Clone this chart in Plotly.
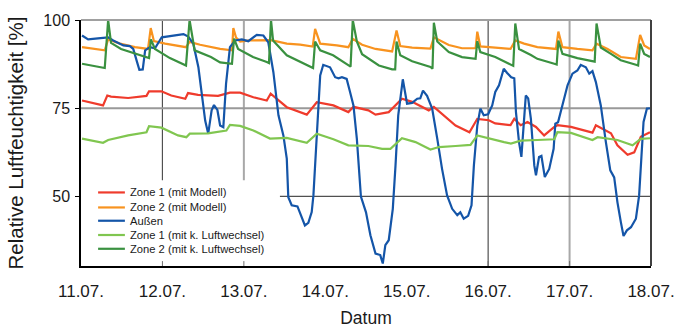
import plotly.graph_objects as go

# ---- Data (x = hours since 11.07. 00:00, y = relative humidity %) ----
z1_mod_h = [0.3, 6.5, 7.75, 8.85, 13.9, 19.3, 20.05, 23.7, 26.6, 30.75, 31.55, 34.5, 40.4, 43.9, 46.9,
            50.8, 54.75, 55.9, 60.65, 66.55, 69.5, 74.4, 78.8, 80.3, 84.7, 86.8, 90.7, 94.6, 97.6,
            102.5, 104.0, 110.4, 114.5, 116.8, 120.2, 122.1, 126.6, 127.7, 129.6, 131.6, 134.1,
            136.5, 139.5, 140.4, 144.4, 150.75, 151.75, 156.2, 158.1, 161.1, 163.05, 165.0, 167.7]
z1_mod_v = [77.2, 75.8, 78.6, 78.3, 77.9, 78.5, 79.8, 79.8, 78.6, 77.7, 79.3, 78.8, 78.5, 79.4, 79.4,
            78.1, 77.2, 79.1, 75.3, 73.2, 76.7, 75.8, 73.9, 75.4, 74.4, 73.2, 73.9, 77.7, 76.8,
            74.4, 75.4, 70.1, 68.2, 72.0, 71.6, 70.7, 70.2, 72.0, 70.2, 71.1, 69.7,
            67.3, 69.7, 70.2, 69.7, 68.1, 70.2, 67.9, 64.5, 61.8, 62.5, 66.9, 68.2]

z2_mod_h = [0.3, 7.0, 8.0, 11.5, 15.9, 19.75, 20.55, 21.5, 24.8, 30.95, 32.0, 35.1, 41.0, 44.5, 44.9,
            45.7, 46.9, 49.8, 56.0, 60.65, 64.6, 68.3, 69.0, 70.5, 75.4, 78.8, 80.1, 82.85, 86.8,
            91.7, 93.0, 94.1, 97.6, 103.0, 104.0, 105.5, 108.4, 112.3, 116.3, 116.8, 117.7, 122.1,
            126.6, 128.0, 130.6, 134.5, 140.0, 140.7, 141.9, 146.3, 150.75, 151.95, 155.2, 159.1,
            163.55, 164.8, 166.0, 167.7]
z2_mod_v = [92.3, 91.4, 94.5, 93.3, 92.3, 91.8, 97.7, 94.0, 93.3, 92.3, 93.8, 93.0, 91.8, 91.4, 97.7,
            95.0, 93.9, 94.2, 94.3, 93.3, 93.0, 92.5, 97.5, 93.3, 92.8, 92.3, 94.7, 93.0, 91.8,
            91.1, 97.0, 92.6, 92.2, 91.9, 95.1, 94.3, 92.9, 92.0, 92.0, 96.7, 92.5, 92.2,
            91.8, 94.2, 93.3, 92.3, 91.8, 96.7, 92.3, 91.8, 91.4, 93.3, 91.8, 89.5,
            89.0, 95.8, 92.8, 91.8]

aussen_h = [0.3, 2.1, 5.0, 8.0, 9.5, 12.5, 14.4, 15.4, 16.4, 17.2, 18.2, 18.9, 20.3, 21.8, 23.8,
            28.2, 30.2, 31.6, 33.1, 34.6, 35.6, 36.6, 37.5, 38.5, 39.2, 40.2, 41.0, 41.95, 42.75,
            43.9, 45.4, 47.4, 49.3, 51.8, 53.75, 55.2, 56.7, 58.2, 59.65, 60.65, 61.1, 62.1, 63.8,
            65.1, 66.0, 67.0, 68.0, 68.5, 69.5, 70.5, 71.4, 73.4, 74.9, 75.9, 76.9, 78.3, 79.3,
            80.3, 81.3, 82.5, 84.0, 85.3, 86.8, 88.2, 88.95, 89.7, 90.7, 91.9, 92.7, 93.5, 94.85,
            96.1, 97.6, 99.1, 100.0, 100.8, 102.0, 103.5, 105.0, 106.4, 107.9, 109.4, 110.9, 111.8,
            112.8, 114.1, 115.1, 115.8, 116.8, 117.7, 118.7, 120.0, 121.2, 122.1, 123.2, 124.6,
            125.6, 126.8, 127.7, 128.2, 129.1, 129.8, 130.6, 131.1, 131.8, 132.6, 133.6, 134.1,
            135.0, 135.7, 136.7, 138.0, 139.3, 139.8, 140.6, 141.9, 143.4, 144.85, 146.3, 147.3,
            148.8, 149.8, 150.75, 151.75, 153.2, 154.7, 156.0, 157.15, 158.1, 159.1, 159.9, 160.9,
            162.1, 163.55, 164.5, 165.2, 165.8, 166.8, 167.7]
aussen_v = [95.6, 94.5, 94.8, 95.1, 94.2, 92.8, 92.6, 91.8, 88.5, 85.9, 86.0, 91.4, 92.3, 92.0, 95.1,
            95.6, 96.0, 95.3, 93.3, 86.6, 79.1, 71.5, 67.8, 74.4, 75.9, 74.5, 70.1, 69.6, 81.9,
            92.3, 94.2, 94.5, 94.0, 95.8, 95.6, 93.7, 85.2, 73.0, 67.3, 60.7, 49.8, 47.5, 47.2,
            43.7, 41.8, 42.5, 45.6, 50.3, 68.2, 84.3, 87.3, 86.6, 83.8, 83.5, 83.8, 83.3, 79.6,
            75.8, 66.4, 50.0, 45.5, 39.0, 33.8, 33.4, 31.0, 36.2, 37.6, 46.5, 58.8, 73.0, 83.2,
            76.3, 76.5, 77.7, 77.8, 80.0, 78.5, 74.9, 66.4, 57.9, 50.3, 46.5, 44.7, 45.5,
            43.7, 44.5, 47.5, 58.8, 70.1, 74.9, 73.0, 73.3, 75.8, 79.6, 81.5, 86.2,
            85.0, 83.8, 83.5, 73.9, 65.4, 61.2, 72.0, 78.6, 77.8, 72.0, 58.8, 56.0,
            61.2, 61.5, 55.5, 57.8, 63.5, 70.6, 71.0, 75.8, 81.5, 84.8, 85.7, 87.3,
            86.6, 84.8, 85.5, 82.4, 75.8, 65.4, 57.4, 55.4, 48.4, 42.8, 38.8, 40.4,
            41.3, 43.7, 50.3, 61.6, 71.1, 74.9, 75.0]

z1_lw_h = [0.3, 6.5, 8.0, 13.9, 19.3, 20.05, 23.7, 28.6, 31.05, 32.05, 37.45, 42.85, 43.9, 46.9, 50.8,
           55.7, 60.65, 66.55, 69.5, 74.4, 78.8, 84.7, 88.75, 91.2, 94.6, 98.6, 103.0, 105.5, 110.4,
           114.8, 116.8, 120.2, 124.7, 126.7, 129.6, 134.5, 139.5, 140.4, 144.4, 150.75, 152.25,
           158.1, 162.55, 165.0, 167.7]
z1_lw_v = [66.4, 65.2, 66.0, 67.3, 68.2, 69.9, 69.5, 67.3, 66.8, 67.8, 67.9, 68.7, 70.3, 70.0, 68.7,
           66.4, 66.6, 65.2, 67.8, 66.2, 64.5, 64.3, 63.5, 63.5, 66.5, 65.4, 63.3, 64.0, 64.3,
           64.6, 67.3, 66.4, 65.4, 65.0, 65.8, 66.0, 66.2, 68.2, 68.0, 66.0, 66.8,
           66.0, 64.5, 66.3, 66.5]

z2_lw_h = [0.3, 7.0, 8.0, 8.85, 11.8, 15.9, 20.05, 20.6, 21.8, 26.2, 30.95, 32.0, 33.5, 38.3, 41.0,
           44.5, 45.1, 46.3, 50.7, 54.75, 55.4, 56.0, 56.6, 60.65, 64.6, 67.7, 68.4, 69.0, 70.5,
           74.3, 78.8, 79.45, 80.1, 81.3, 82.85, 87.8, 91.7, 92.6, 93.0, 94.1, 97.6, 103.0, 103.6,
           104.0, 105.0, 108.4, 112.3, 116.3, 116.8, 117.7, 122.1, 125.0, 127.4, 128.0, 129.1,
           132.6, 134.5, 139.5, 140.2, 140.7, 141.9, 146.3, 150.75, 151.4, 151.95, 153.2, 156.2,
           159.1, 163.55, 164.2, 164.8, 166.0, 167.7]
z2_lw_v = [87.6, 86.4, 100.0, 93.5, 91.8, 90.4, 89.2, 94.5, 91.8, 89.2, 87.1, 100.0, 91.4, 89.5, 88.0,
           87.6, 94.7, 91.8, 89.5, 88.1, 87.8, 100.0, 94.2, 90.0, 88.1, 86.6, 86.4, 93.9, 91.4,
           90.0, 87.1, 86.8, 100.0, 93.9, 90.3, 87.1, 86.0, 86.0, 93.9, 90.0, 88.3, 86.7, 86.2,
           99.2, 93.9, 90.9, 89.5, 89.0, 94.0, 90.9, 89.5, 88.2, 87.0, 99.0, 91.8,
           90.1, 89.0, 87.6, 87.4, 94.2, 90.4, 89.2, 88.3, 88.2, 99.0, 92.2, 90.4,
           88.6, 87.3, 87.1, 93.3, 90.4, 89.5]

day_ticks = [0, 24, 48, 72, 96, 120, 144, 168]
day_labels = ["11.07.", "12.07.", "13.07.", "14.07.", "15.07.", "16.07.", "17.07.", "18.07."]
y_ticks = [50, 75, 100]

names = ["Zone 1 (mit Modell)", "Zone 2 (mit Modell)", "Außen",
         "Zone 1 (mit k. Luftwechsel)", "Zone 2 (mit k. Luftwechsel)"]
colors = ["#ef3b2c", "#f8931f", "#1455a8", "#80c650", "#3a9140"]
xs = [z1_mod_h, z2_mod_h, aussen_h, z1_lw_h, z2_lw_h]
ys = [z1_mod_v, z2_mod_v, aussen_v, z1_lw_v, z2_lw_v]

FONT = "Liberation Sans, Arial, sans-serif"

fig = go.Figure()
for n, c, x, y in zip(names, colors, xs, ys):
    fig.add_trace(go.Scatter(x=x, y=y, mode="lines", name=n, showlegend=False,
                             line=dict(color=c, width=2.2)))

shapes = []
# grid lines (only at some dates, as in the original)
for xv, col, w in [(24, "#505050", 1.2), (48, "#a8a8a8", 2), (120, "#505050", 1.2), (144, "#a8a8a8", 2)]:
    shapes.append(dict(type="line", xref="x", yref="paper", x0=xv, x1=xv, y0=0, y1=1,
                       line=dict(color=col, width=w), layer="below"))
shapes.append(dict(type="line", xref="paper", yref="y", x0=0, x1=1, y0=75, y1=75,
                   line=dict(color="#999999", width=2), layer="below"))
shapes.append(dict(type="line", xref="paper", yref="y", x0=0, x1=1, y0=50, y1=50,
                   line=dict(color="#505050", width=1.2), layer="below"))
# legend box (white, covers grid)
lx0, lx1, ly0, ly1 = 0.0, 0.349, 0.0, 0.349
shapes.append(dict(type="rect", xref="paper", yref="paper", x0=lx0, x1=lx1, y0=ly0, y1=ly1,
                   fillcolor="white", line=dict(width=0), layer="below"))
# small inside ticks at bottom
for xv in [24, 48, 120, 144]:
    shapes.append(dict(type="line", xref="x", yref="paper", x0=xv, x1=xv, y0=0, y1=0.02,
                       line=dict(color="#707070", width=1)))
# frame: top gray, right dark
shapes.append(dict(type="line", xref="paper", yref="paper", x0=0, x1=1, y0=1, y1=1,
                   line=dict(color="#a0a0a0", width=2)))
shapes.append(dict(type="line", xref="paper", yref="paper", x0=1, x1=1, y0=0, y1=1,
                   line=dict(color="#404040", width=2)))

# manual legend
annotations = []
leg_y = [0.299, 0.238, 0.184, 0.126, 0.070]
for n, c, yy in zip(names, colors, leg_y):
    shapes.append(dict(type="line", xref="paper", yref="paper", x0=0.030, x1=0.077, y0=yy, y1=yy,
                       line=dict(color=c, width=2.2)))
    annotations.append(dict(xref="paper", yref="paper", x=0.082, y=yy, text=n, showarrow=False,
                            xanchor="left", yanchor="middle", font=dict(family=FONT, size=11.2, color="#1a1a1a")))

fig.update_layout(
    width=678, height=328,
    margin=dict(l=81, r=27, t=20, b=62),
    paper_bgcolor="white", plot_bgcolor="white",
    font=dict(family=FONT, color="#1a1a1a"),
    shapes=shapes, annotations=annotations,
    xaxis=dict(range=[0, 168], tickmode="array", tickvals=day_ticks, ticktext=day_labels,
               automargin=False,
               showgrid=False, zeroline=False, showline=True, linecolor="black", linewidth=1.5,
               ticks="", tickfont=dict(size=17), ticklabelstandoff=9,
               title=dict(text="Datum", font=dict(size=17.5), standoff=16)),
    yaxis=dict(range=[30.3, 100], tickmode="array", tickvals=y_ticks, automargin=False,
               showgrid=False, zeroline=False, showline=True, linecolor="black", linewidth=1.5,
               ticks="outside", ticklen=4, tickcolor="black", tickfont=dict(size=16),
               ticklabelstandoff=2,
               title=dict(text="Relative Luftfeuchtigkeit [%]", font=dict(size=20.5), standoff=14)),
)

fig.write_html("out.html")
